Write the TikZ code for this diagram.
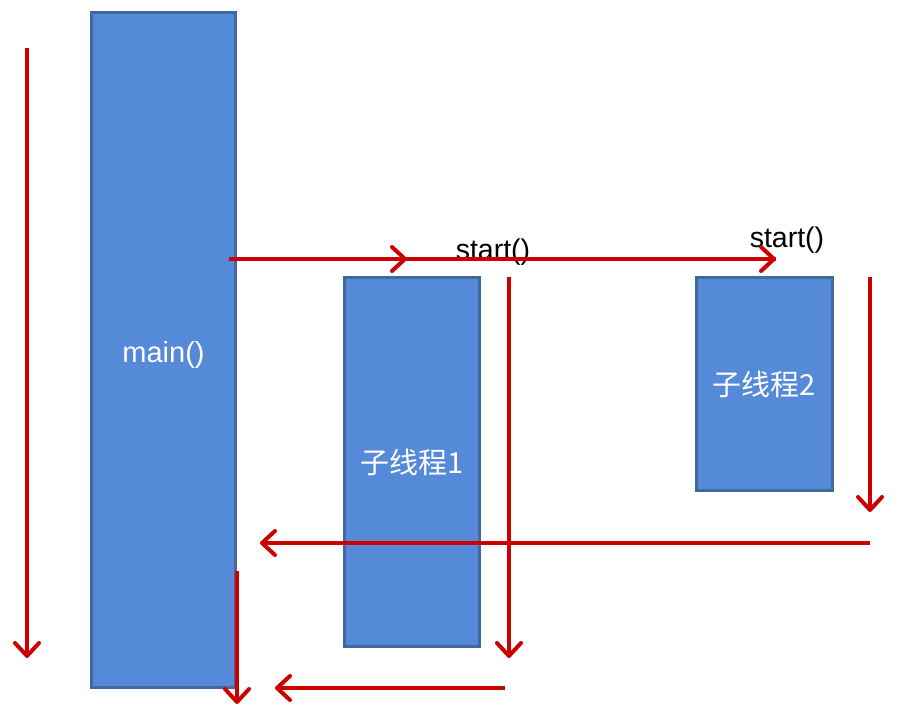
\documentclass[tikz,border=0pt]{standalone}
\usepackage{fontspec}
\setmainfont{Liberation Sans}
\newfontfamily\cjk{Noto Sans CJK SC}
\usetikzlibrary{arrows.meta}
\definecolor{boxfill}{HTML}{558AD9}
\definecolor{boxline}{HTML}{41699F}
\definecolor{arrred}{HTML}{CC0000}
\begin{document}
\begin{tikzpicture}[x=1pt,y=-1pt,
  thread/.style={rectangle, fill=boxfill, draw=boxline, line width=3pt, inner sep=0pt, text=white, font=\fontsize{29}{32}\selectfont},
  flow/.style={draw=arrred, line width=4pt, -{Straight Barb[length=13pt,width=24pt,round]}},
  plain/.style={draw=arrred, line width=4pt},
  lbl/.style={inner sep=0pt, font=\fontsize{28.5}{32}\selectfont}]
\useasboundingbox (0,0) rectangle (904,714);
% boxes
\node[thread, minimum width=144pt, minimum height=675pt] (main) at (163.5,350) {\raisebox{-5pt}[21pt][6pt]{main()}};
\node[thread, minimum width=135pt, minimum height=369pt] (t1) at (412,462) {\cjk 子线程1};
\node[thread, minimum width=136pt, minimum height=213pt] (t2) at (764.5,384) {\cjk 子线程2};
% labels
\node[lbl] (s1) at (493,252) {start()};
\node[lbl] (s2) at (787,240) {start()};
% coordinates
\coordinate (l0) at (27,48);
\coordinate (l1) at (27,658);
\coordinate (h0) at (229,259);
\coordinate (h1) at (407,259);
\coordinate (h2) at (776,259);
\coordinate (v10) at (509,277);
\coordinate (v11) at (509,658);
\coordinate (v20) at (870,277);
\coordinate (v21) at (870,512);
\coordinate (r0) at (870,543);
\coordinate (r1) at (260,543);
\coordinate (m0) at (237,571);
\coordinate (m1) at (237,704);
\coordinate (b0) at (505,688);
\coordinate (b1) at (275,688);
% arrows
\draw[flow] (l0) -- (l1);
\draw[plain] (h0) -- (h2);
\draw[flow] (h0) -- (h1);
\draw[flow] (h1) -- (h2);
\draw[flow] (v10) -- (v11);
\draw[flow] (v20) -- (v21);
\draw[flow] (r0) -- (r1);
\draw[flow] (m0) -- (m1);
\draw[flow] (b0) -- (b1);
\end{tikzpicture}
\end{document}
